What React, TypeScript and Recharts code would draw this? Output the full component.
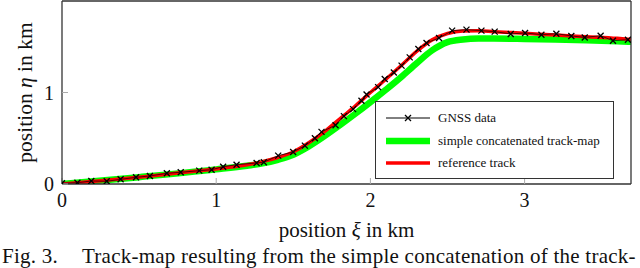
import React from "react";
import { LineChart, Line, XAxis, YAxis, Legend, Label } from "recharts";

// GNSS measurements (xi, eta in km)
const gnssXi = [0, 0.1, 0.19, 0.29, 0.38, 0.48, 0.57, 0.68, 0.77, 0.89, 0.97, 1.045, 1.132, 1.262, 1.309, 1.402, 1.499, 1.575, 1.64, 1.683, 1.774, 1.828, 1.888, 1.942, 1.975, 2.05, 2.093, 2.152, 2.202, 2.255, 2.311, 2.364, 2.445, 2.53, 2.623, 2.72, 2.806, 2.91, 3.003, 3.109, 3.206, 3.303, 3.39, 3.493, 3.573, 3.67];
const gnssEta = [0.008, 0.014, 0.033, 0.03, 0.051, 0.073, 0.088, 0.117, 0.128, 0.146, 0.156, 0.189, 0.211, 0.23, 0.238, 0.31, 0.35, 0.419, 0.5, 0.57, 0.643, 0.742, 0.818, 0.909, 0.978, 1.059, 1.147, 1.219, 1.294, 1.384, 1.475, 1.541, 1.596, 1.676, 1.687, 1.676, 1.665, 1.64, 1.651, 1.632, 1.643, 1.618, 1.602, 1.621, 1.566, 1.577];

// reference track
const refXi = [0, 0.25, 0.5, 0.75, 1.0, 1.1, 1.2, 1.3, 1.4, 1.5, 1.6, 1.7, 1.8, 1.9, 2.0, 2.1, 2.2, 2.3, 2.4, 2.5, 2.6, 2.7, 2.8, 3.0, 3.2, 3.4, 3.6, 3.69];
const refEta = [0, 0.035, 0.075, 0.12, 0.165, 0.185, 0.21, 0.245, 0.29, 0.35, 0.45, 0.57, 0.71, 0.85, 1.0, 1.145, 1.295, 1.45, 1.575, 1.645, 1.672, 1.675, 1.665, 1.647, 1.628, 1.61, 1.592, 1.58];

// simple concatenated track-map
const mapXi = [0, 0.5, 1.0, 1.2, 1.3, 1.4, 1.5, 1.6, 1.7, 1.8, 1.9, 2.0, 2.1, 2.2, 2.3, 2.4, 2.5, 2.6, 2.7, 2.8, 3.0, 3.2, 3.4, 3.6, 3.69];
const mapEta = [0, 0.075, 0.16, 0.2, 0.225, 0.265, 0.32, 0.41, 0.52, 0.64, 0.765, 0.895, 1.03, 1.17, 1.32, 1.46, 1.55, 1.58, 1.59, 1.59, 1.585, 1.578, 1.57, 1.56, 1.555];

const xTicks = [0, 1, 2, 3];
const yTicks = [0, 1];
const seriesNames = ["GNSS data", "simple concatenated track-map", "reference track"];

const toRows = (xs: number[], ys: number[]) => xs.map((xi, i) => ({ xi, eta: ys[i] }));
const gnss = toRows(gnssXi, gnssEta);
const ref = toRows(refXi, refEta);
const trackMap = toRows(mapXi, mapEta);

const FONT = "'Liberation Serif', 'Times New Roman', serif";
const FRAME = { stroke: "#333", strokeWidth: 1.3 };
const TICK = { stroke: "#aaa", strokeWidth: 1 };

function Cross(props: any) {
  const { cx, cy } = props;
  if (cx == null || cy == null) return null;
  const s = 3;
  return (
    <path
      d={`M${cx - s},${cy - s}L${cx + s},${cy + s}M${cx - s},${cy + s}L${cx + s},${cy - s}`}
      stroke="#000"
      strokeWidth={1.3}
      fill="none"
    />
  );
}

function LegendBox() {
  const samples = [
    { color: "#000", width: 1, marker: true },
    { color: "#00ff00", width: 6.5, marker: false },
    { color: "#ff0000", width: 3.5, marker: false },
  ];
  return (
    <div
      style={{
        width: 239, height: 78, boxSizing: "border-box", border: "1.3px solid #333",
        background: "#fff", fontFamily: FONT, fontSize: 13, color: "#111", paddingTop: 5,
      }}
    >
      {seriesNames.map((name, i) => (
        <div key={name} style={{ display: "flex", alignItems: "center", height: 22.5 }}>
          <svg width={62} height={20} style={{ display: "block" }}>
            <line x1={10} x2={54} y1={10} y2={10} stroke={samples[i].color} strokeWidth={samples[i].width} />
            {samples[i].marker && <Cross cx={32} cy={10} />}
          </svg>
          <span>{name}</span>
        </div>
      ))}
    </div>
  );
}

export default function App() {
  return (
    <div style={{ position: "absolute", left: 0, top: 0, width: 640, height: 268, background: "#fff", overflow: "hidden" }}>
      <LineChart width={640} height={268} margin={{ top: 0, right: 0, bottom: 0, left: 0 }}>
        <XAxis
          xAxisId="b" dataKey="xi" type="number" domain={[0, 3.69]} allowDataOverflow ticks={xTicks}
          height={84} axisLine={FRAME} tickLine={TICK} tickSize={-6} tickMargin={15}
          tick={{ fontFamily: FONT, fontSize: 20, fill: "#111" }}
        >
          <Label
            content={(p: any) => {
              const vb = p.viewBox;
              return (
                <text x={vb.x + vb.width / 2} y={236.5} textAnchor="middle" fontFamily={FONT} fontSize={21} fill="#111">
                  position <tspan fontStyle="italic">ξ</tspan> in km
                </text>
              );
            }}
          />
        </XAxis>
        <XAxis
          xAxisId="t" orientation="top" dataKey="xi" type="number" domain={[0, 3.69]} allowDataOverflow ticks={xTicks}
          height={1} axisLine={FRAME} tickLine={TICK} tickSize={-6} tick={false}
        />
        <YAxis
          yAxisId="l" type="number" domain={[0, 2]} allowDataOverflow ticks={yTicks}
          width={62} axisLine={FRAME} tickLine={TICK} tickSize={-6} tickMargin={14}
          tick={{ fontFamily: FONT, fontSize: 20, fill: "#111" }}
        >
          <Label
            content={(p: any) => {
              const vb = p.viewBox;
              const cy = vb.y + vb.height / 2;
              return (
                <text x={31.5} y={cy} transform={`rotate(-90, 31.5, ${cy})`} textAnchor="middle" fontFamily={FONT} fontSize={21.5} fill="#111">
                  position <tspan fontStyle="italic">η</tspan> in km
                </text>
              );
            }}
          />
        </YAxis>
        <YAxis
          yAxisId="r" orientation="right" type="number" domain={[0, 2]} allowDataOverflow ticks={yTicks}
          width={9} axisLine={FRAME} tickLine={TICK} tickSize={-6} tick={false}
        />
        <Line
          xAxisId="b" yAxisId="l" data={trackMap} dataKey="eta" name={seriesNames[1]} type="monotone"
          stroke="#00ff00" strokeWidth={6.5} dot={false} isAnimationActive={false}
        />
        <Line
          xAxisId="b" yAxisId="l" data={ref} dataKey="eta" name={seriesNames[2]} type="monotone"
          stroke="#ff0000" strokeWidth={3.5} dot={false} isAnimationActive={false}
        />
        <Line
          xAxisId="b" yAxisId="l" data={gnss} dataKey="eta" name={seriesNames[0]} type="linear"
          stroke="#000" strokeWidth={0.7} dot={<Cross />} isAnimationActive={false}
        />
        <Legend
          layout="vertical" align="center" verticalAlign="middle"
          wrapperStyle={{ left: 375, top: 101, width: 239, height: 78 }}
          content={() => <LegendBox />}
        />
      </LineChart>
      <div
        style={{
          position: "absolute", left: 0, top: 246, width: 640, height: 22, fontFamily: FONT,
          fontSize: 21, lineHeight: "20px", color: "#111", whiteSpace: "nowrap", letterSpacing: 0.25,
        }}
      >
        <span style={{ position: "absolute", left: 2 }}>Fig. 3.</span>
        <span style={{ position: "absolute", left: 82 }}>Track-map resulting from the simple concatenation of the track-</span>
      </div>
    </div>
  );
}
